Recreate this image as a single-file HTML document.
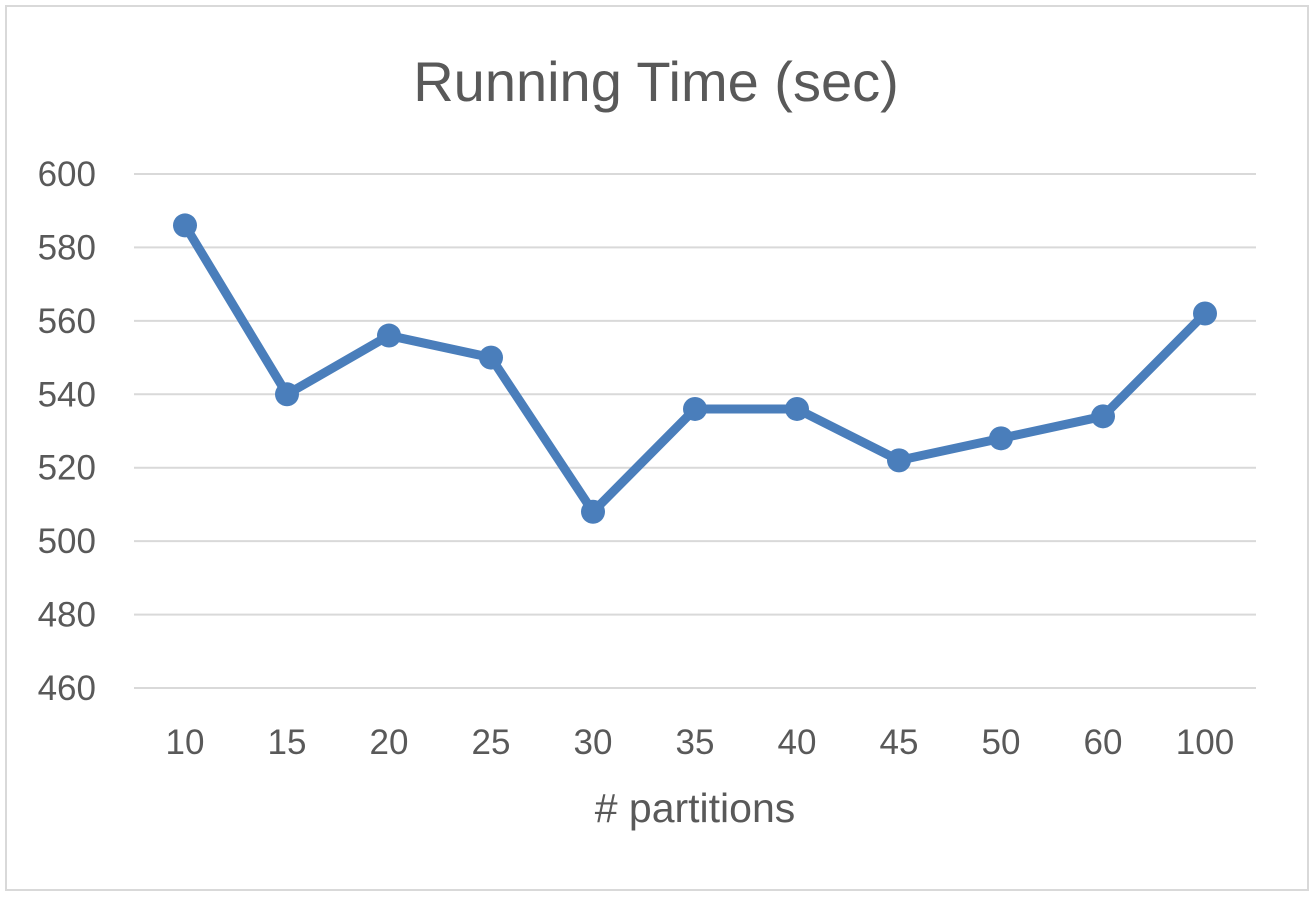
<!DOCTYPE html>
<html><head><meta charset="utf-8"><style>
html,body{margin:0;padding:0;background:#fff;}
svg{display:block;font-family:"Liberation Sans",sans-serif;}
</style></head><body>
<svg id="chart" width="1315" height="898" viewBox="0 0 1315 898">
<rect x="6" y="6" width="1302" height="884" fill="#fff" stroke="#d9d9d9" stroke-width="2"/>
<text x="656" y="101" text-anchor="middle" font-size="56" fill="#595959">Running Time (sec)</text>
<g id="grid"></g><g id="yt"></g><g id="xt"></g><g id="series"></g>
<text x="695" y="822" text-anchor="middle" font-size="41" fill="#595959"># partitions</text>
</svg>
<script>
const categories=["10","15","20","25","30","35","40","45","50","60","100"];
const values=[586,540,556,550,508,536,536,522,528,534,562];
const yTicks=[460,480,500,520,540,560,580,600];
const NS="http://www.w3.org/2000/svg";
const yMin=460,yMax=600,yTop=174,yBot=688,xL=134,xR=1256;
function y(v){return yBot-(v-yMin)/(yMax-yMin)*(yBot-yTop);}
const step=(xR-xL)/categories.length;
function x(i){return xL+step*(i+0.5);}
function mk(t,a,p){const e=document.createElementNS(NS,t);for(const k in a)e.setAttribute(k,a[k]);p.appendChild(e);return e;}
const grid=document.getElementById('grid'),yt=document.getElementById('yt'),xt=document.getElementById('xt'),s=document.getElementById('series');
yTicks.forEach(v=>{
 const l=mk('line',{x1:xL,x2:xR,y1:y(v),y2:y(v),stroke:'#d9d9d9','stroke-width':2},grid);
 
 
 const t=mk('text',{x:96,y:y(v)+12,'text-anchor':'end','font-size':35,fill:'#595959'},yt);
 t.textContent=v;
 
 
});
categories.forEach((c,i)=>{
 const t=mk('text',{x:x(i),y:754,'text-anchor':'middle','font-size':35,fill:'#595959'},xt);
 t.textContent=c;
 
 
});
const pl=mk('polyline',{points:values.map((v,i)=>x(i)+','+y(v)).join(' '),fill:'none',stroke:'#4a7ebb','stroke-width':9,'stroke-linejoin':'round'},s);


values.forEach((v,i)=>{
 const c=mk('circle',{cx:x(i),cy:y(v),r:12,fill:'#4a7ebb'},s);
 
 
});
</script>
</body></html>
